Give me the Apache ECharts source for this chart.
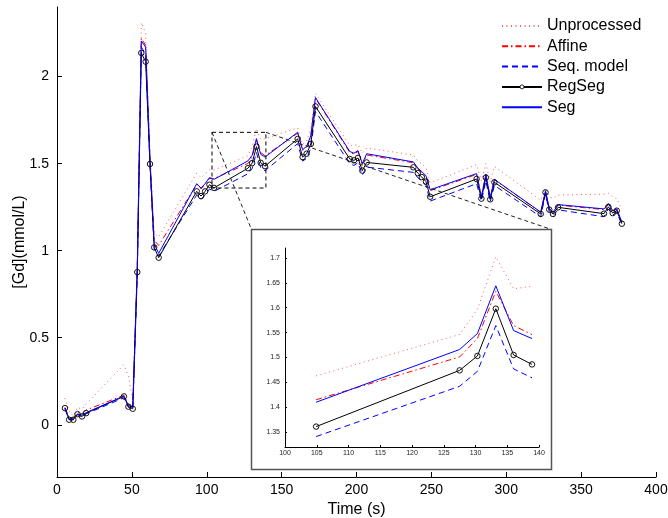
<!DOCTYPE html>
<html>
<head>
<meta charset="utf-8">
<script src="https://cdn.jsdelivr.net/npm/echarts@6/dist/echarts.min.js"></script>
<style>html,body{margin:0;padding:0;background:#fff;}#c{width:668px;height:518px;}</style>
</head>
<body>
<div id="c"></div>
<script>
const time = [5.3, 8.1, 10.9, 13.7, 16.7, 19.5, 44.7, 47.7, 50.6, 53.6, 56.3, 59.2, 62.1, 64.9, 67.9,
  93.3, 96.2, 98.9, 101.8, 104.9, 127.5, 130.3, 133.2, 136.0, 138.9, 160.7, 164.0, 166.7, 169.5, 172.6,
  195.5, 198.3, 201.0, 203.9, 206.8, 238.0, 240.9, 243.6, 246.4, 249.2, 280.2, 283.4, 286.4, 289.3, 292.1,
  323.0, 326.2, 328.7, 331.2, 334.6, 365.3, 368.2, 371.1, 373.8, 377.2];
const unprocessed = [0.153, 0.08, 0.05, 0.10, 0.09, 0.12, 0.345, 0.28, 0.14, 0.95, 2.31, 2.25, 1.56, 1.10, 1.08,
  1.445, 1.42, 1.44, 1.465, 1.463, 1.546, 1.597, 1.702, 1.638, 1.643, 1.706, 1.610, 1.630, 1.700, 1.905,
  1.605, 1.605, 1.610, 1.560, 1.590, 1.550, 1.515, 1.500, 1.475, 1.390, 1.494, 1.400, 1.500, 1.395, 1.484,
  1.290, 1.360, 1.310, 1.300, 1.320, 1.325, 1.330, 1.310, 1.300, 1.235];
const affine = [0.10, 0.04, 0.04, 0.07, 0.065, 0.085, 0.17, 0.115, 0.105, 0.91, 2.22, 2.18, 1.53, 1.06, 1.03,
  1.38, 1.355, 1.38, 1.415, 1.415, 1.501, 1.538, 1.633, 1.564, 1.546, 1.675, 1.575, 1.595, 1.655, 1.875,
  1.565, 1.555, 1.570, 1.495, 1.550, 1.505, 1.470, 1.450, 1.425, 1.345, 1.438, 1.308, 1.437, 1.303, 1.408,
  1.220, 1.342, 1.243, 1.218, 1.262, 1.236, 1.266, 1.228, 1.238, 1.163];
const seqModel = [0.09, 0.03, 0.03, 0.058, 0.045, 0.063, 0.155, 0.10, 0.09, 0.86, 2.17, 2.13, 1.49, 1.01, 0.97,
  1.32, 1.295, 1.32, 1.355, 1.341, 1.442, 1.472, 1.564, 1.477, 1.459, 1.615, 1.515, 1.530, 1.590, 1.800,
  1.500, 1.490, 1.505, 1.435, 1.480, 1.450, 1.420, 1.400, 1.375, 1.285, 1.385, 1.285, 1.400, 1.280, 1.375,
  1.195, 1.325, 1.225, 1.200, 1.235, 1.195, 1.240, 1.205, 1.220, 1.150];
const regSeg = [0.096, 0.029, 0.029, 0.061, 0.048, 0.067, 0.163, 0.104, 0.092, 0.877, 2.136, 2.086, 1.498, 1.019, 0.960,
  1.341, 1.314, 1.341, 1.379, 1.361, 1.474, 1.503, 1.598, 1.505, 1.486, 1.642, 1.538, 1.557, 1.613, 1.829,
  1.527, 1.519, 1.533, 1.460, 1.507, 1.479, 1.446, 1.423, 1.397, 1.310, 1.412, 1.299, 1.420, 1.295, 1.393,
  1.211, 1.335, 1.236, 1.211, 1.249, 1.213, 1.252, 1.216, 1.230, 1.155];
const seg = [0.096, 0.035, 0.035, 0.062, 0.055, 0.070, 0.165, 0.110, 0.100, 0.90, 2.205, 2.17, 1.52, 1.04, 0.985,
  1.385, 1.36, 1.385, 1.42, 1.410, 1.516, 1.548, 1.644, 1.554, 1.538, 1.680, 1.580, 1.600, 1.660, 1.880,
  1.570, 1.560, 1.575, 1.500, 1.557, 1.510, 1.475, 1.455, 1.430, 1.350, 1.443, 1.310, 1.440, 1.305, 1.410,
  1.222, 1.345, 1.245, 1.220, 1.265, 1.240, 1.270, 1.230, 1.240, 1.165];

const seriesNames = ['Unprocessed', 'Affine', 'Seq. model', 'RegSeg', 'Seg'];
const yTickValues = [0, 0.5, 1, 1.5, 2];
const insetYTickValues = [1.35, 1.4, 1.45, 1.5, 1.55, 1.6, 1.65, 1.7];
const zoomBoxX = [103.5, 139.5];
const zoomBoxY = [1.36, 1.68];
const insetRange = [19, 25]; // indices of points shown in the inset

const FONT = 'Liberation Sans';
const allData = [unprocessed, affine, seqModel, regSeg, seg];
const styles = [
  { color: '#ff5a5a', type: [1, 3.5], width: 1 },
  { color: '#ff0000', type: [6, 3, 1.5, 3], width: 1 },
  { color: '#0000ff', type: [6, 4], width: 1 },
  { color: '#000000', type: 'solid', width: 1 },
  { color: '#0000ff', type: 'solid', width: 1 }
];

function pairs(arr, a, b) {
  const out = [];
  for (let i = a; i < b; i++) out.push([time[i], arr[i]]);
  return out;
}

const series = [];
allData.forEach((arr, k) => {
  const isReg = seriesNames[k] === 'RegSeg';
  const base = {
    type: 'line',
    name: seriesNames[k],
    symbol: isReg ? 'circle' : 'none',
    symbolSize: isReg ? 5.5 : 0,
    showSymbol: isReg,
    lineStyle: { color: styles[k].color, type: styles[k].type, width: styles[k].width },
    itemStyle: isReg ? { color: 'rgba(255,255,255,0)', borderColor: '#111', borderWidth: 1 } : { color: styles[k].color },
    emphasis: { disabled: true },
    animation: false,
    silent: true
  };
  series.push(Object.assign({}, base, { xAxisIndex: 0, yAxisIndex: 0, data: pairs(arr, 0, time.length), z: 2 }));
  series.push(Object.assign({}, base, { xAxisIndex: 1, yAxisIndex: 1, data: pairs(arr, insetRange[0], insetRange[1]), z: 20 }));
});
series.push({
  type: 'line', name: 'zoombox', xAxisIndex: 0, yAxisIndex: 0, symbol: 'none', silent: true, animation: false,
  lineStyle: { color: '#000', type: [4, 3], width: 1 },
  data: [[zoomBoxX[0], zoomBoxY[1]], [zoomBoxX[1], zoomBoxY[1]], [zoomBoxX[1], zoomBoxY[0]], [zoomBoxX[0], zoomBoxY[0]], [zoomBoxX[0], zoomBoxY[1]]],
  z: 3
});

const chart = echarts.init(document.getElementById('c'), null, { renderer: 'canvas' });
const option = {
  animation: false,
  backgroundColor: '#fff',
  textStyle: { fontFamily: FONT },
  grid: [
    { left: 57, top: 7, width: 599, height: 470, containLabel: false, outerBoundsMode: 'none' },
    { left: 285, top: 248, width: 254, height: 199, containLabel: false, outerBoundsMode: 'none' }
  ],
  legend: {
    data: seriesNames.map(n => n === 'RegSeg'
      ? { name: n, itemStyle: { color: '#fff', borderColor: '#111', borderWidth: 0.9 } }
      : { name: n, itemStyle: { color: 'rgba(0,0,0,0)', borderColor: 'rgba(0,0,0,0)', borderWidth: 0 } }),
    orient: 'vertical', left: 496, top: 13, padding: 5, itemWidth: 40, itemHeight: 5, itemGap: 4.3,
    textStyle: { fontSize: 16, color: '#000', fontFamily: FONT },
    selectedMode: false
  },
  xAxis: [
    {
      type: 'value', gridIndex: 0, min: 0, max: 400, interval: 50,
      name: 'Time (s)', nameLocation: 'middle', nameGap: 22,
      nameTextStyle: { fontSize: 16, color: '#000', fontFamily: FONT },
      axisLine: { show: true, onZero: false, lineStyle: { color: '#000', width: 1 } },
      axisTick: { show: true, inside: true, length: 5, lineStyle: { color: '#000' } },
      axisLabel: { fontSize: 14, color: '#000', margin: 6, fontFamily: FONT },
      splitLine: { show: false }
    },
    {
      type: 'value', gridIndex: 1, min: 100, max: 140, interval: 5, z: 21,
      axisLine: { show: true, onZero: false, lineStyle: { color: '#000', width: 1 } },
      axisTick: { show: true, inside: true, length: 2, lineStyle: { color: '#000' } },
      axisLabel: { fontSize: 7, color: '#222', margin: 3, fontFamily: FONT },
      splitLine: { show: false }
    }
  ],
  yAxis: [
    {
      type: 'value', gridIndex: 0, min: -0.3, max: 2.4,
      name: '[Gd](mmol/L)', nameLocation: 'middle', nameGap: 29, nameMoveOverlap: false,
      nameTextStyle: { fontSize: 16, color: '#000', fontFamily: FONT },
      axisLine: { show: true, onZero: false, lineStyle: { color: '#000', width: 1 } },
      axisTick: { show: true, inside: true, length: 5, customValues: yTickValues, lineStyle: { color: '#000' } },
      axisLabel: { fontSize: 14, color: '#000', margin: 8, customValues: yTickValues, fontFamily: FONT },
      splitLine: { show: false }
    },
    {
      type: 'value', gridIndex: 1, min: 1.32, max: 1.72, z: 21,
      axisLine: { show: true, onZero: false, lineStyle: { color: '#000', width: 1 } },
      axisTick: { show: true, inside: true, length: 2, customValues: insetYTickValues, lineStyle: { color: '#000' } },
      axisLabel: { fontSize: 7, color: '#222', margin: 5, customValues: insetYTickValues, fontFamily: FONT },
      splitLine: { show: false }
    }
  ],
  graphic: [
    {
      id: 'insetBox', type: 'rect', z: 10, silent: true,
      shape: { x: 251.5, y: 229.5, width: 300, height: 240 },
      style: { fill: '#fff', stroke: '#555', lineWidth: 1.5 }
    }
  ],
  series: series
};
chart.setOption(option);

const pTL = chart.convertToPixel({ gridIndex: 0 }, [zoomBoxX[0], zoomBoxY[1]]);
const pTR = chart.convertToPixel({ gridIndex: 0 }, [zoomBoxX[1], zoomBoxY[1]]);
chart.setOption({
  graphic: [
    {
      id: 'conn1', type: 'line', z: 5, silent: true,
      shape: { x1: pTL[0], y1: pTL[1], x2: 251.5, y2: 229.5 },
      style: { stroke: '#222', lineWidth: 1, lineDash: [4, 3] }
    },
    {
      id: 'conn2', type: 'line', z: 5, silent: true,
      shape: { x1: pTR[0], y1: pTR[1], x2: 551.5, y2: 229.5 },
      style: { stroke: '#222', lineWidth: 1, lineDash: [4, 3] }
    }
  ]
});
</script>
</body>
</html>
